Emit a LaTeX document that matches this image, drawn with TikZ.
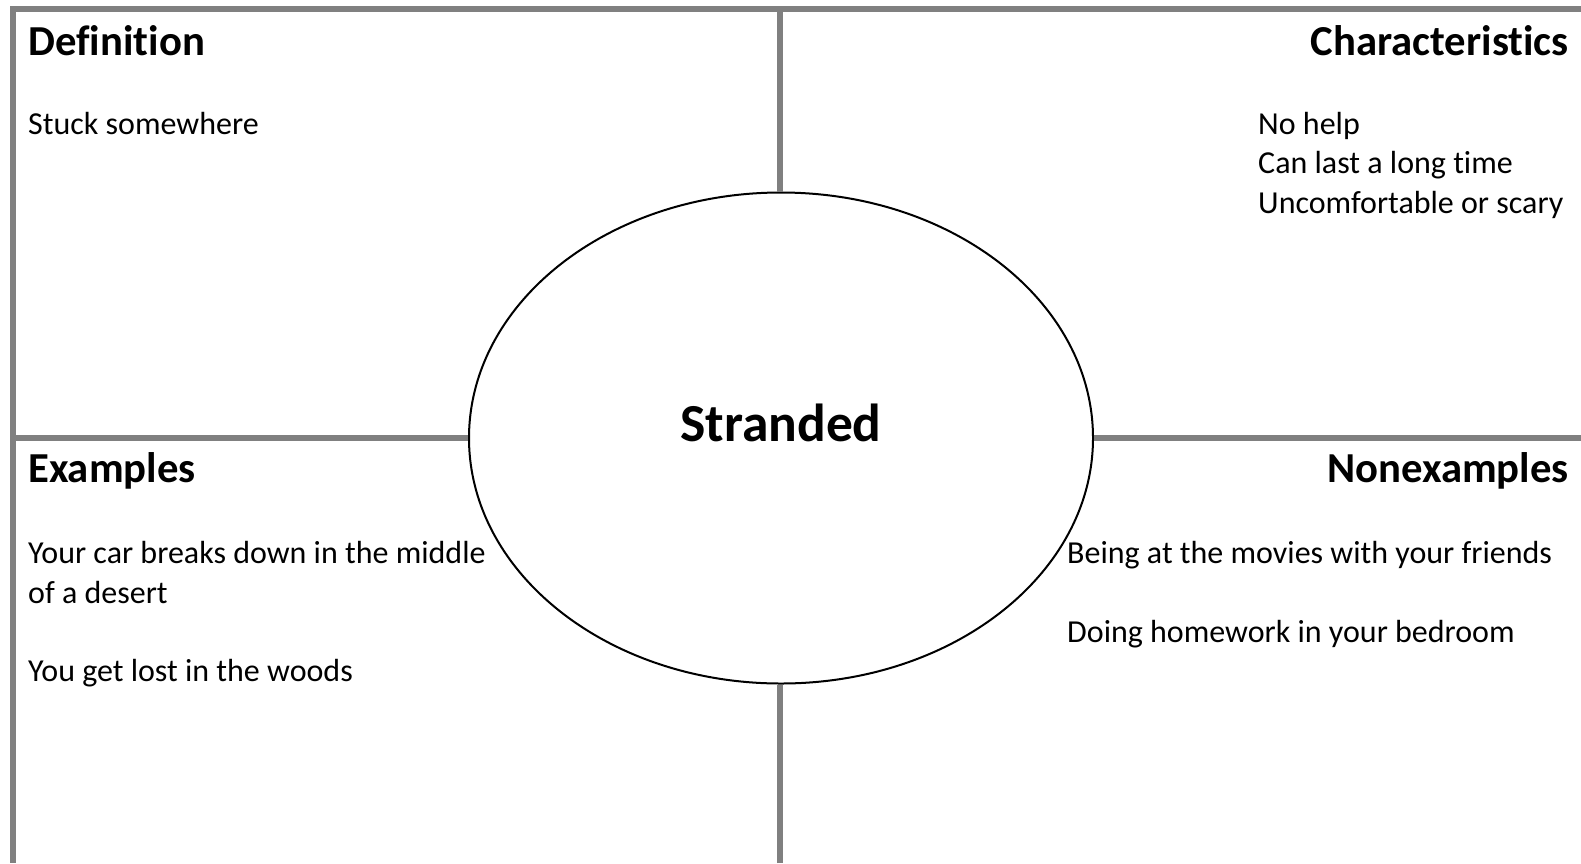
\documentclass[tikz,border=0pt]{standalone}
\usepackage{fontspec}
\setmainfont{Carlito}[Ligatures=NoCommon]
\usetikzlibrary{shapes.geometric}
\definecolor{frame}{RGB}{128,128,128}
\tikzset{
  rule/.style={draw=frame, line width=6pt},
  head/.style={inner sep=0pt, font=\fontsize{42.7}{50}\selectfont\bfseries},
  body/.style={inner sep=0pt, font=\fontsize{32}{39}\selectfont, align=left},
}
\begin{document}
\begin{tikzpicture}[x=1pt,y=-1pt]
\useasboundingbox (0,0) rectangle (1581,863);
% frame
\coordinate (tl) at (13,6);
\coordinate (bl) at (13,863);
\coordinate (tl2) at (10,9);
\coordinate (tr) at (1581,9);
\draw[rule] (tl) -- (bl);
\draw[rule] (tl2) -- (tr);
% center ellipse
\node[ellipse, draw=black, line width=2pt, fill=white, minimum width=624pt, minimum height=491pt, inner sep=0pt] (ell) at (781,438) {};
\coordinate (vt) at (780,9);
\coordinate (vb) at (780,863);
\coordinate (hl) at (13,438);
\coordinate (hr) at (1581,438);
\draw[rule] (vt) -- (vt |- ell.north);
\draw[rule] (vb) -- (vb |- ell.south);
\draw[rule] (hl) -- (ell.west);
\draw[rule] (hr) -- (ell.east);
\node[inner sep=0pt, anchor=base, font=\fontsize{53.5}{60}\selectfont\bfseries] (title) at (781,441) {Stranded};
% headings
\node[head, anchor=base west] (def) at (28,55) {Definition};
\node[head, anchor=base east] (cha) at (1569,55) {Characteristics};
\node[head, anchor=base west] (exa) at (28,482) {Examples};
\node[head, anchor=base east] (non) at (1569,482) {Nonexamples};
% body texts
\node[body, anchor=base west] (d1) at (28,134) {Stuck somewhere};
\node[body, anchor=base west] (c1) at (1258,134) {No help};
\node[body, anchor=base west] (c2) at (1258,173.5) {Can last a long time};
\node[body, anchor=base west] (c3) at (1258,213) {Uncomfortable or scary};
\node[body, anchor=base west] (e1) at (28,563.5) {Your car breaks down in the middle};
\node[body, anchor=base west] (e2) at (28,603) {of a desert};
\node[body, anchor=base west] (e3) at (28,681.5) {You get lost in the woods};
\node[body, anchor=base west] (n1) at (1067,563.5) {Being at the movies with your friends};
\node[body, anchor=base west] (n2) at (1067,642) {Doing homework in your bedroom};
\end{tikzpicture}
\end{document}
